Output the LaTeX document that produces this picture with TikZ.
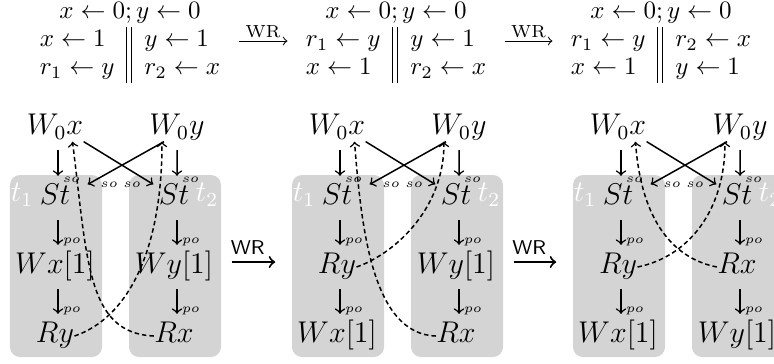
\documentclass[tikz,border=0pt]{standalone}
\usetikzlibrary{calc}
\def\threadpanel[#1](#2:#3)#4#5#6#7{%
  \node[tbox] (#1-box1) at (#2+1, 266) {};
  \node[tbox] (#1-box2) at (#3+1, 266) {};
  \node[tlabel] (#1-t1) at (#2-33, 195) {$t_1$};
  \node[tlabel] (#1-t2) at (#3+33, 195) {$t_2$};
  \node[ev] (#1-w0x) at (#2, 128) {$W_0x$};
  \node[ev] (#1-w0y) at (#3+3, 128) {$W_0y$};
  \node[ev] (#1-st1) at (#2, 198) {$St$};
  \node[ev] (#1-st2) at (#3, 198) {$St$};
  \node[ev] (#1-m1) at (#2, 267) {$#4$};
  \node[ev] (#1-b1) at (#2, 336) {$#5$};
  \node[ev] (#1-m2) at (#3, 267) {$#6$};
  \node[ev] (#1-b2) at (#3, 336) {$#7$};
  \draw[rel] ([xshift=1.2pt]#1-w0x.south) -- ([xshift=1.2pt]#1-st1.north) node[solbl] {$so$};
  \draw[rel] ([xshift=0pt]#1-w0y.south) -- ([xshift=1.2pt]#1-st2.north) node[solbl] {$so$};
  \draw[rel] ([xshift=1.2pt]#1-st1.south) -- ([xshift=1.2pt]#1-m1.north) node[polbl] {$po$};
  \draw[rel] ([xshift=1.2pt]#1-st2.south) -- ([xshift=1.2pt]#1-m2.north) node[polbl] {$po$};
  \draw[rel] ([xshift=1.2pt]#1-m1.south) -- ([xshift=1.2pt]#1-b1.north) node[polbl] {$po$};
  \draw[rel] ([xshift=1.2pt]#1-m2.south) -- ([xshift=1.2pt]#1-b2.north) node[polbl] {$po$};
  \draw[sox] (#1-w0x.south east) -- ([xshift=-2pt]#1-st2.north west) node[lbl, anchor=east, xshift=-4.4pt] {$so$};
  \draw[sox] ([xshift=-5.2pt]#1-w0y.south) -- ([xshift=6.8pt]#1-st1.north east) node[lbl, anchor=west, xshift=4.4pt] {$so$};
}

\begin{document}
\begin{tikzpicture}[x=0.4pt, y=-0.4pt,
  prog/.style={inner sep=0pt},
  ev/.style={font=\large, inner sep=0pt, text height=8pt, text depth=2.5pt},
  tbox/.style={fill=black!17, rounded corners=4pt, minimum width=36.8pt, minimum height=72.8pt, inner sep=0pt},
  tlabel/.style={font=\large, text=white, inner sep=0pt},
  rel/.style={->, semithick, shorten <=3.4pt, shorten >=3.4pt},
  sox/.style={->, semithick},
  lbl/.style={font=\tiny, inner sep=0.4pt},
  solbl/.style={lbl, anchor=base west, xshift=1.2pt, yshift=0.8pt},
  polbl/.style={lbl, anchor=base west, xshift=1.2pt, yshift=3.8pt},
  rf/.style={->, semithick, dash pattern=on 1.8pt off 1.2pt},
  wrtop/.style={->, shorten <=2.2pt, shorten >=2.2pt},
  wrtoplbl/.style={above, font=\scriptsize, inner sep=1pt},
  wr/.style={->, thick, shorten <=4pt, shorten >=6.5pt},
  wrlbl/.style={above, xshift=-3.5pt, font=\footnotesize\sffamily, inner sep=2.5pt}]
  \useasboundingbox (0,0) rectangle (774,363);
  \clip (0,0) rectangle (774,363);

  %%%%% PROGRAMS %%%%%
  \renewcommand{\arraystretch}{0.93}
  \node[prog] (init1) at (130,41) {$\begin{array}{l||l}
    \multicolumn{2}{c}{x \leftarrow 0; y \leftarrow 0}\\
    x \leftarrow 1 & y \leftarrow 1\\
    r_1 \leftarrow y & r_2 \leftarrow x
  \end{array}$};
  \node[prog] (init2) at (396,41) {$\begin{array}{l||l}
    \multicolumn{2}{c}{x \leftarrow 0; y \leftarrow 0}\\
    r_1 \leftarrow y & y \leftarrow 1\\
    x \leftarrow 1 & r_2 \leftarrow x
  \end{array}$};
  \node[prog] (init3) at (661,41) {$\begin{array}{l||l}
    \multicolumn{2}{c}{x \leftarrow 0; y \leftarrow 0}\\
    r_1 \leftarrow y & r_2 \leftarrow x\\
    x \leftarrow 1 & y \leftarrow 1
  \end{array}$};
  \draw[wrtop] (init1.east) -- node[wrtoplbl] {WR} (init2.west);
  \draw[wrtop] (init2.east) -- node[wrtoplbl] {WR} (init3.west);

  %%%%% EXECUTIONS %%%%%
  \threadpanel[p](55:174){Wx[1]}{Ry}{Wy[1]}{Rx}
  \draw[rf] (p-b1.east) .. controls +(53,-18) and +(0,110) .. ([xshift=-6pt]p-w0y.south);
  \draw[rf] (p-b2.west) .. controls +(-67,-3) and +(15,120) .. ([xshift=7pt]p-w0x.south);

  \threadpanel[q](337:456){Ry}{Wx[1]}{Wy[1]}{Rx}
  \draw[rf] (q-m1.east) .. controls +(35,-12) and +(0,70) .. ([xshift=-6pt]q-w0y.south);
  \draw[rf] (q-b2.west) .. controls +(-63,-2) and +(7,89) .. ([xshift=7pt]q-w0x.south);

  \threadpanel[r](618:737){Ry}{Wx[1]}{Rx}{Wy[1]}
  \draw[rf] (r-m1.east) .. controls +(50,-10) and +(0,70) .. ([xshift=-6pt]r-w0y.south);
  \draw[rf] (r-m2.west) .. controls +(-50,-10) and +(5,70) .. ([xshift=7pt]r-w0x.south);

  \draw[wr] ([yshift=1.6pt]p-box2.east) -- node[wrlbl] {WR} ([yshift=1.6pt]q-box1.west);
  \draw[wr] ([yshift=1.6pt]q-box2.east) -- node[wrlbl] {WR} ([yshift=1.6pt]r-box1.west);
\end{tikzpicture}
\end{document}
